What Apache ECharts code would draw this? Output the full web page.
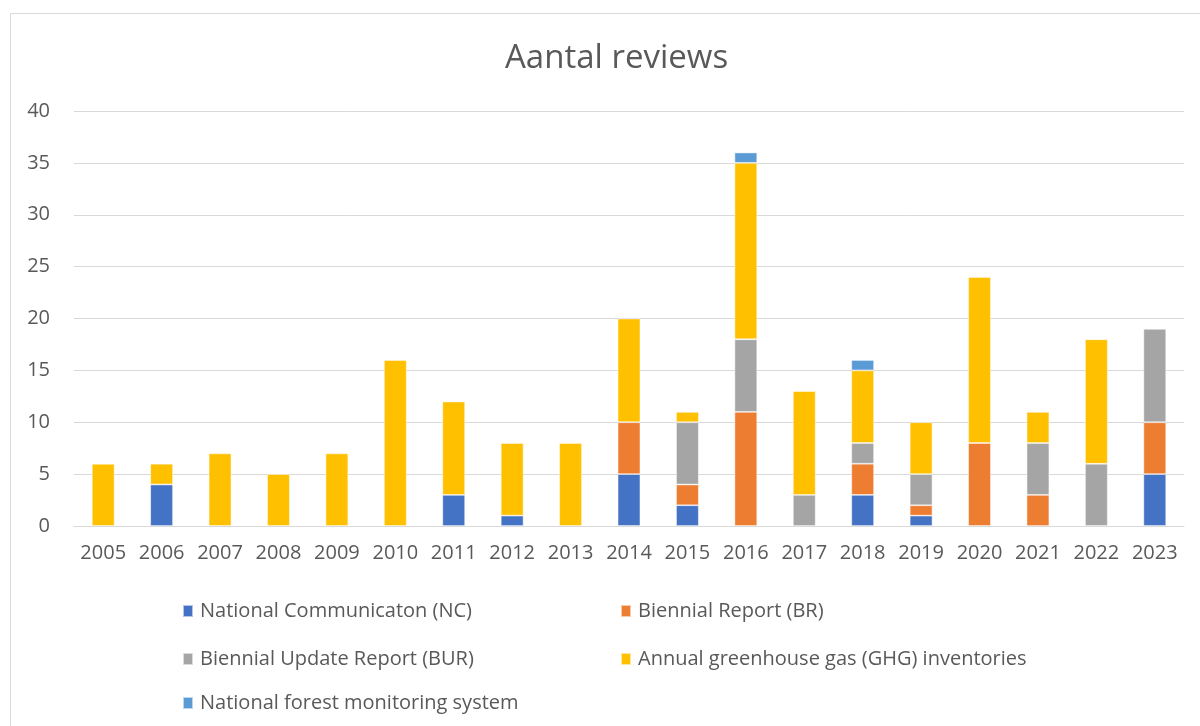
<!DOCTYPE html>
<html>
<head>
<meta charset="utf-8">
<script src="https://cdn.jsdelivr.net/npm/echarts@6/dist/echarts.min.js"></script>
<style>
html,body{margin:0;padding:0;background:#fff;}
#chart{width:1200px;height:726px;}
</style>
</head>
<body>
<div id="chart"></div>
<script>
var years = ['2005','2006','2007','2008','2009','2010','2011','2012','2013','2014','2015','2016','2017','2018','2019','2020','2021','2022','2023'];
var seriesNames = ['National Communicaton (NC)','Biennial Report (BR)','Biennial Update Report (BUR)','Annual greenhouse gas (GHG) inventories','National forest monitoring system'];
var nc   = [0,4,0,0,0,0,3,1,0,5,2,0,0,3,1,0,0,0,5];
var br   = [0,0,0,0,0,0,0,0,0,5,2,11,0,3,1,8,3,0,5];
var bur  = [0,0,0,0,0,0,0,0,0,0,6,7,3,2,3,0,5,6,9];
var ghg  = [6,2,7,5,7,16,9,7,8,10,1,17,10,7,5,16,3,12,0];
var nfms = [0,0,0,0,0,0,0,0,0,0,0,1,0,1,0,0,0,0,0];
var yTicks = [0,5,10,15,20,25,30,35,40];

var colors = ['#4472C4','#ED7D31','#A5A5A5','#FFC000','#5B9BD5'];
var values = [nc, br, bur, ghg, nfms];
var FONT = '"Open Sans", sans-serif';
var TXT = '#595959';

var chart = echarts.init(document.getElementById('chart'), null, {renderer:'canvas'});

var legendPos = [
  {left:177, top:596},
  {left:615, top:596},
  {left:177, top:644},
  {left:615, top:644},
  {left:177, top:688}
];

var legends = seriesNames.map(function(n,i){
  return {
    data:[n], left:legendPos[i].left, top:legendPos[i].top,
    itemWidth:10, itemHeight:12, itemGap:8, icon:'rect',
    selectedMode:false,
    textStyle:{fontFamily:FONT, fontSize:20, color:TXT, padding:[0,0,0,2]}
  };
});

var series = seriesNames.map(function(n,i){
  return {
    name:n, type:'bar', stack:'total', barWidth:'39%',
    data: values[i].map(function(v){ return v === 0 ? '-' : v; }),
    itemStyle:{color:colors[i], borderColor:'rgba(255,255,255,0.6)', borderWidth:0.8},
    emphasis:{disabled:true}
  };
});

chart.setOption({
  animation:false,
  backgroundColor:'#fff',
  title:{
    text:'Aantal reviews', left:500, top:37,
    textStyle:{fontFamily:FONT, fontSize:33, fontWeight:'normal', color:TXT}
  },
  graphic:[{
    type:'rect', silent:true, z:-1,
    shape:{x:10.5, y:13.5, width:1300, height:800},
    style:{fill:'none', stroke:'#D9D9D9', lineWidth:1}
  }],
  legend: legends,
  grid:{left:74, right:16, top:111, bottom:200, containLabel:false},
  xAxis:{
    type:'category', data:years,
    axisLine:{show:true, lineStyle:{color:'#D9D9D9', width:1}},
    axisTick:{show:false},
    axisLabel:{fontFamily:FONT, fontSize:20, color:TXT, margin:17, interval:0}
  },
  yAxis:{
    type:'value', min:yTicks[0], max:yTicks[yTicks.length-1], interval:5,
    axisLine:{show:false}, axisTick:{show:false},
    splitLine:{lineStyle:{color:'#D9D9D9', width:1}},
    axisLabel:{fontFamily:FONT, fontSize:20, color:TXT, margin:24}
  },
  series: series
});
</script>
</body>
</html>
